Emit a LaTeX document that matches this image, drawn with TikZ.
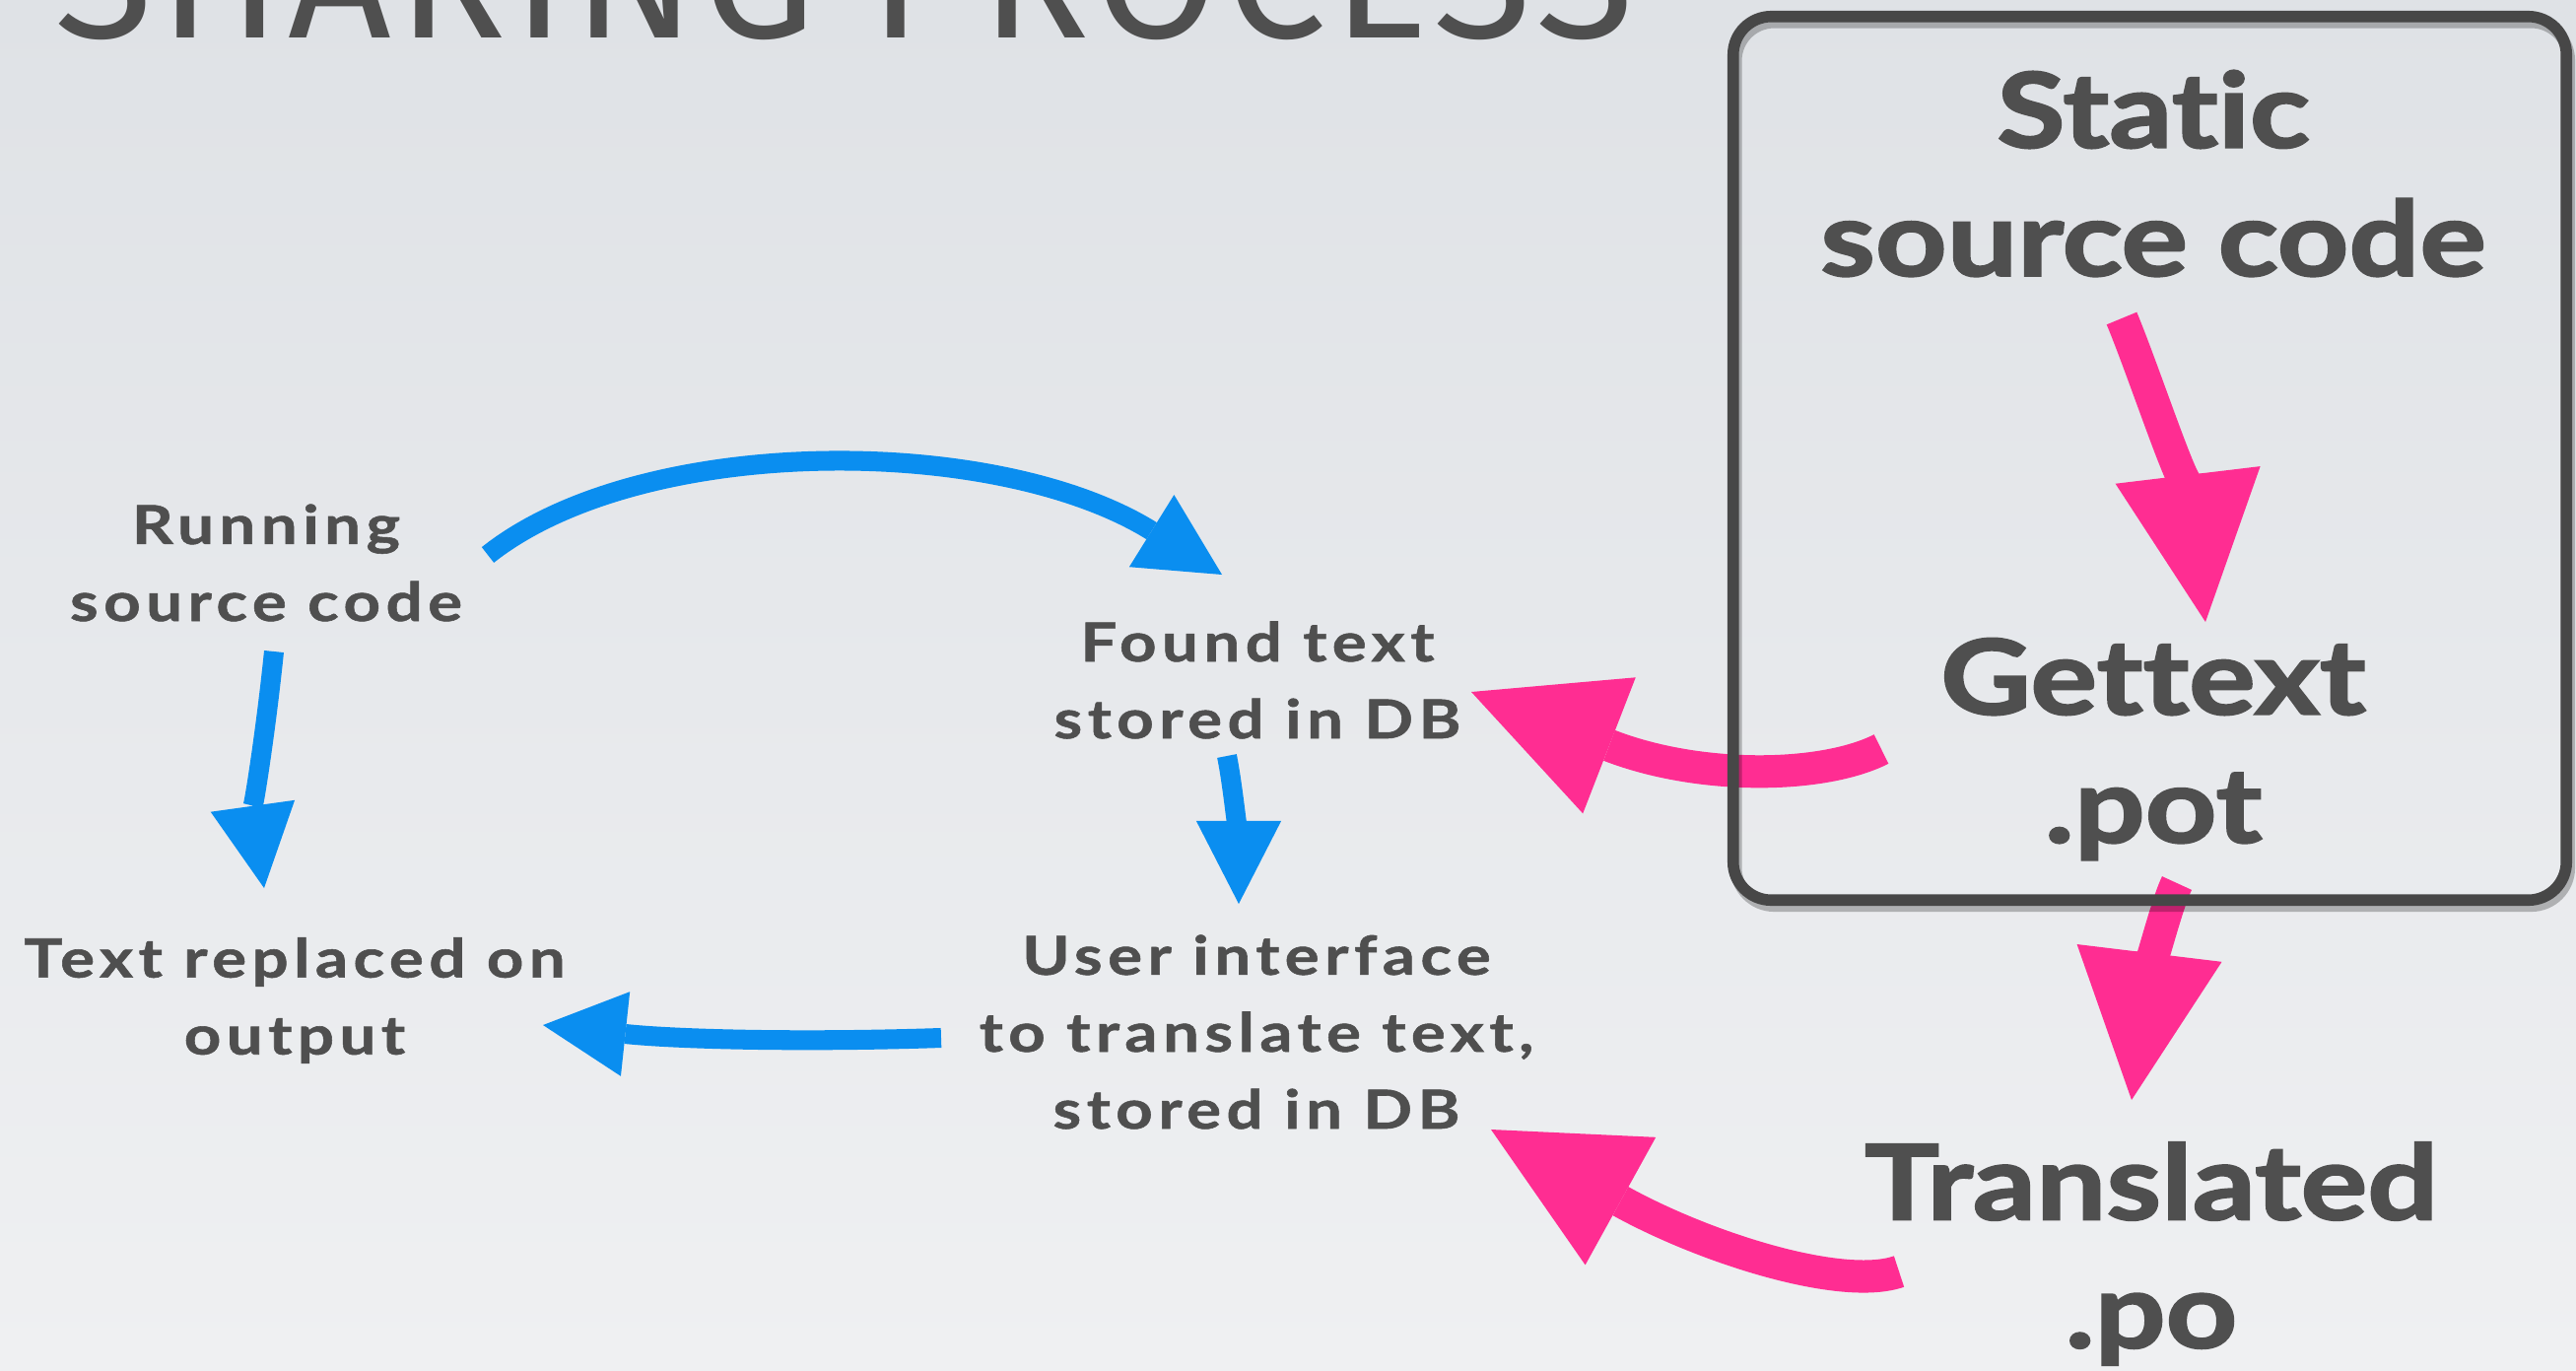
\documentclass[tikz,border=0pt]{standalone}
\usepackage{fontspec}
\setmainfont{Lato}
\newfontfamily\titlefont{Fira Sans}[LetterSpace=3.5]
\newfontfamily\labelfont{Lato}[FakeStretch=1.2,LetterSpace=10,FakeBold=1]
\newfontfamily\bigfont{Lato}[FakeStretch=1.2,FakeBold=2,Ligatures=NoCommon]
\usetikzlibrary{arrows.meta}
\definecolor{textgray}{HTML}{4F4F4F}
\definecolor{framegray}{HTML}{474747}
\definecolor{bluearr}{HTML}{0A8EF0}
\definecolor{pinkarr}{HTML}{FF2D92}
\definecolor{bgtop}{HTML}{DFE2E6}
\definecolor{bgbottom}{HTML}{EFF0F2}

\begin{document}
\begin{tikzpicture}[x=0.01cm, y=-0.01cm,
    smalltext/.style={text=textgray, align=center, font=\labelfont\bfseries\fontsize{15.5}{22.2}\selectfont},
    bigtext/.style={text=textgray, align=center, font=\bigfont\bfseries\fontsize{30}{37}\selectfont},
    bluearrow/.style={draw=bluearr, line width=5.7pt, -{Triangle[length=23.9pt, width=24.5pt, line width=0pt]}},
    pinkarrow/.style={draw=pinkarr, line width=9.4pt, -{Triangle[length=42.7pt, width=42.1pt, line width=0pt]}},
    potframe/.style={draw=framegray, line width=3.3pt, rounded corners=11pt, minimum width=8.45cm, minimum height=8.96cm}
]
    % Slide background
    \useasboundingbox (0,0) rectangle (2614,1390);
    \clip (0,0) rectangle (2614,1390);
    \shade[top color=bgtop, bottom color=bgbottom] (0,0) rectangle (2614,1390);

    % Title (cut off at the top)
    \node[anchor=base west, inner sep=0, text=textgray, font=\titlefont\fontsize{52}{60}\selectfont] (title) at (55,38) {SHARING PROCESS};

    % Dynamic side
    \node[smalltext] (run) at (270,571) {Running\\source code};
    \node[smalltext] (repl) at (299,1015) {Text replaced on\\output};
    \node[smalltext] (found) at (1276,690) {Found text\\stored in DB};
    \node[smalltext] (ui) at (1275,1047) {User interface\\to translate text,\\stored in DB};

    % Static side
    \node[bigtext] (static) at (2185,176) {Static\\source code};
    \node[bigtext] (gettext) at (2185,760) {Gettext\\.pot};
    \node[bigtext] (transl) at (2183,1272) {Translated\\.po};

    % Blue arrows
    \draw[bluearrow] ([shift={(225,-8)}]run.center) .. controls +(155,-123) and +(-230,-143) .. ([shift={(-36,-107)}]found.center);
    \draw[bluearrow] ([shift={(8,90)}]run.center) .. controls +(-8,79) and +(-11,-79) .. ([shift={(-31,-114)}]repl.center);
    \draw[bluearrow] ([shift={(-31,77)}]found.center) .. controls +(8,40) and +(0,-50) .. ([shift={(-18,-130)}]ui.center);
    \draw[bluearrow] ([shift={(-320,6)}]ui.center) .. controls +(-150,5) and +(130,14) .. ([shift={(252,25)}]repl.center);

    % Pink arrows
    \draw[pinkarrow] ([shift={(-32,147)}]static.center) .. controls +(25,60) and +(-12,-100) .. ([shift={(53,-129)}]gettext.center);
    \draw[pinkarrow] ([shift={(-276,0)}]gettext.center) .. controls +(-59,30) and +(232,90) .. ([shift={(217,12)}]found.center);
    \draw[pinkarrow] ([shift={(24,136)}]gettext.center) .. controls +(-14,29) and +(12,-99) .. ([shift={(-20,-156)}]transl.center);
    \draw[pinkarrow] ([shift={(-256,18)}]transl.center) .. controls +(-57,20) and +(219,121) .. ([shift={(238,99)}]ui.center);

    % Frame round the static part
    \node[potframe, preaction={draw=black, opacity=0.25, transform canvas={shift={(3,6)}}}] (potbox) at (2181.5,465) {};
\end{tikzpicture}
\end{document}
